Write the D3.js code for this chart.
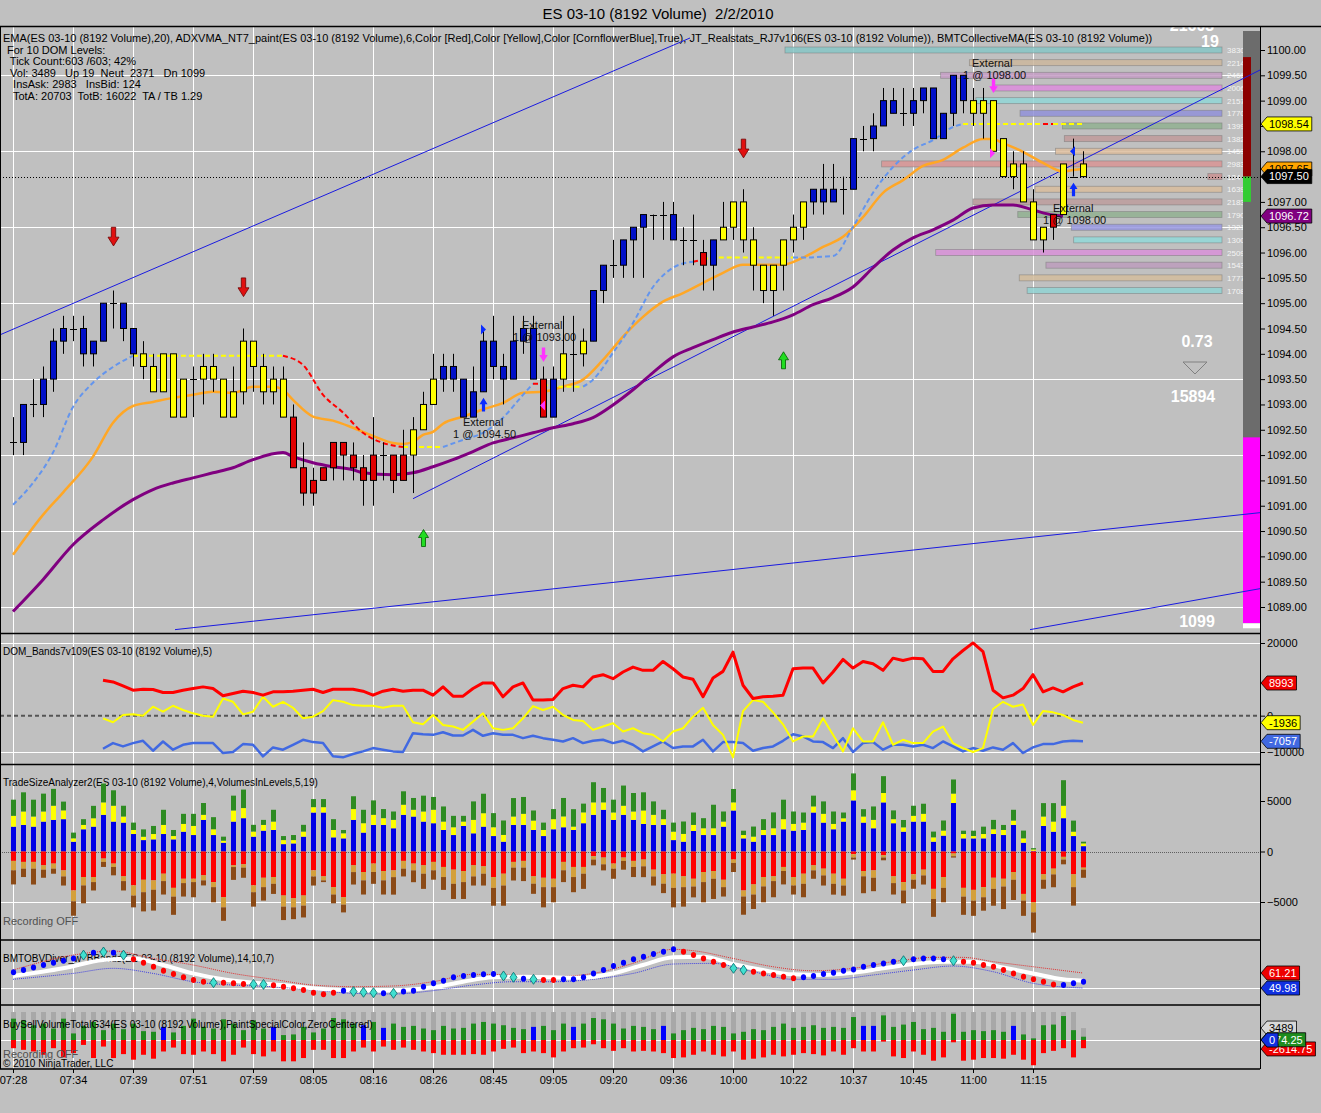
<!DOCTYPE html>
<html>
<head>
  <title>ES 03-10 (8192 Volume) 2/2/2010</title>
  <meta charset="utf-8">
  <script type="text/javascript" src="https://d3js.org/d3.v7.min.js"></script>
  <style>
    body { margin: 0; background: #c0c0c0; }
    svg { display: block; }
    text { font-family: "Liberation Sans", Arial, sans-serif; }
  </style>
</head>
<body>
<svg id="chart" width="1321" height="1113"></svg>
<script type="text/javascript">
"use strict";

// ---- price bars (8192 volume bars, 2/2/2010) ----
var barOpen = [1092.25,1092.25,1093.0,1093.0,1093.5,1094.25,1094.5,1094.5,1094.0,1094.25,
  1095.0,1095.0,1094.5,1094.0,1093.75,1093.25,1094.0,1092.75,1093.5,1093.5,
  1093.75,1093.5,1092.75,1093.25,1094.25,1093.75,1093.25,1093.5,1092.75,1091.75,
  1091.25,1091.5,1091.75,1092.25,1092.0,1091.75,1091.5,1092.0,1092.0,1091.5,
  1092.0,1092.5,1093.0,1093.5,1093.75,1093.5,1092.75,1093.25,1094.25,1093.75,
  1093.5,1094.25,1094.5,1093.5,1092.75,1093.5,1094.0,1094.0,1094.25,1095.25,
  1095.75,1095.75,1096.25,1096.5,1096.75,1096.75,1096.75,1096.25,1096.25,1096.0,
  1095.75,1096.25,1096.5,1097.0,1096.25,1095.75,1095.25,1095.75,1096.25,1096.5,
  1097.0,1097.0,1097.0,1097.25,1097.25,1098.25,1098.25,1098.5,1098.75,1098.75,
  1098.75,1099.0,1099.25,1098.25,1098.75,1099.5,1099.0,1098.75,1099.0,1098.25,
  1097.5,1097.75,1097.0,1096.25,1096.5,1096.75,1097.5,1097.75];
var barHigh = [1092.75,1093.0,1093.5,1093.75,1094.5,1094.75,1094.75,1094.75,1094.25,1095.0,
  1095.25,1095.0,1094.5,1094.25,1094.0,1094.0,1094.0,1093.5,1093.75,1094.0,
  1094.0,1093.5,1093.75,1094.5,1094.25,1094.0,1093.75,1093.75,1093.0,1092.25,
  1091.75,1091.75,1092.25,1092.25,1092.25,1092.0,1092.75,1092.25,1092.0,1092.5,
  1092.75,1093.25,1094.0,1094.0,1094.0,1093.5,1093.75,1094.5,1094.75,1094.0,
  1094.75,1094.75,1094.75,1093.75,1093.75,1094.75,1094.75,1094.5,1095.25,1095.75,
  1096.25,1096.25,1096.5,1096.75,1096.75,1097.0,1097.0,1096.5,1096.75,1096.25,
  1096.25,1097.0,1097.0,1097.25,1096.5,1095.75,1095.75,1096.25,1096.75,1097.0,
  1097.25,1097.75,1097.75,1097.5,1098.25,1098.5,1098.75,1099.25,1099.25,1099.25,
  1099.25,1099.25,1099.25,1098.75,1099.5,1099.5,1099.25,1099.25,1099.0,1098.25,
  1098.0,1098.0,1097.25,1096.5,1096.75,1097.75,1098.25,1098.0];
var barLow = [1092.0,1092.0,1092.75,1092.75,1093.25,1094.0,1094.25,1093.75,1093.75,1094.25,
  1094.5,1094.25,1093.75,1093.5,1093.25,1093.25,1092.75,1092.75,1092.75,1093.0,
  1093.25,1092.75,1092.75,1093.0,1093.25,1093.0,1093.0,1092.75,1091.75,1091.0,
  1091.0,1091.5,1091.5,1091.5,1091.5,1091.0,1091.0,1091.5,1091.25,1091.5,
  1091.25,1092.5,1093.0,1093.25,1093.25,1092.75,1092.75,1093.25,1093.5,1093.0,
  1093.5,1094.0,1093.5,1092.75,1092.75,1093.25,1093.25,1093.75,1094.25,1095.0,
  1095.5,1095.5,1095.5,1095.5,1096.25,1096.25,1096.25,1095.75,1095.75,1095.25,
  1095.25,1096.25,1096.25,1096.0,1095.25,1095.0,1094.75,1095.25,1096.0,1096.25,
  1096.75,1096.75,1097.0,1096.75,1097.25,1098.0,1098.0,1098.5,1098.75,1098.5,
  1098.5,1098.75,1098.25,1098.25,1098.5,1098.75,1098.5,1098.25,1098.0,1097.5,
  1097.25,1097.0,1096.25,1096.0,1096.25,1096.75,1097.5,1097.5];
var barClose = [1092.25,1093.0,1093.0,1093.5,1094.25,1094.5,1094.5,1094.0,1094.25,1095.0,
  1095.0,1094.5,1094.0,1093.75,1093.25,1094.0,1092.75,1093.5,1093.5,1093.75,
  1093.5,1092.75,1093.25,1094.25,1093.75,1093.25,1093.5,1092.75,1091.75,1091.25,
  1091.5,1091.75,1092.25,1092.0,1091.75,1091.5,1092.0,1092.0,1091.5,1092.0,
  1092.5,1093.0,1093.5,1093.75,1093.5,1092.75,1093.25,1094.25,1093.75,1093.5,
  1094.25,1094.5,1093.5,1092.75,1093.5,1094.0,1094.0,1094.25,1095.25,1095.75,
  1095.75,1096.25,1096.5,1096.75,1096.75,1096.75,1096.25,1096.25,1096.25,1095.75,
  1096.25,1096.5,1097.0,1096.25,1095.75,1095.25,1095.75,1096.25,1096.5,1097.0,
  1097.25,1097.25,1097.25,1097.25,1098.25,1098.25,1098.5,1099.0,1099.0,1098.75,
  1099.0,1099.25,1098.25,1098.75,1099.5,1099.0,1098.75,1099.0,1098.0,1097.5,
  1097.75,1097.0,1096.25,1096.5,1096.75,1097.75,1097.5,1097.5];
// b = up trend (blue), y = flat (yellow), r = down trend (red)
var barColor = "bbbbbbbbbbbbb" + "yyyyyyyyyyyyyyy" + "rrrrrrrrrrrr" + "yyy" + "bbbbbbbbbb" +
  "r" + "b" + "yyy" + "bbbbbbbbbbb" + "r" + "b" + "yyyyyyyyy" + "bbbbbbbbbbbbbbbb" +
  "yyyyyyyy" + "r" + "yyy";
var timeLabels = ["07:28","07:34","07:39","07:51","07:59","08:05","08:16","08:26","08:45",
  "09:05","09:20","09:36","10:00","10:22","10:37","10:45","11:00","11:15"];
var priceTicks = [1089,1089.5,1090,1090.5,1091,1091.5,1092,1092.5,1093,1093.5,1094,
  1094.5,1095,1095.5,1096,1096.5,1097,1097.5,1098,1098.5,1099,1099.5,1100];

// ---- overlays ----
var emaBars = [0,3,5,8,10,12,14,16,18,20,22,24,26,27,28,30,32,34,36,38,39,40,41,42,43,45,47,49,51,53,
  55,57,59,61,63,65,67,69,71,73,75,77,79,81,83,85,87,89,91,93,95,97,98,99,101,103,105,106,107];
var emaVals = [1090.03,1090.82,1091.26,1091.97,1092.64,1092.97,1093.05,1093.13,1093.19,1093.25,
  1093.23,1093.35,1093.35,1093.29,1093.09,1092.76,1092.68,1092.54,1092.38,1092.24,
  1092.22,1092.26,1092.40,1092.46,1092.62,1092.76,1092.90,1093.03,1093.23,1093.25,
  1093.35,1093.49,1093.88,1094.34,1094.73,1095.03,1095.20,1095.40,1095.60,1095.76,
  1095.76,1095.76,1095.90,1096.11,1096.31,1096.70,1097.18,1097.43,1097.71,1097.83,
  1098.07,1098.24,1098.24,1098.16,1097.99,1097.77,1097.60,1097.63,1097.65];
var maBars = [0,3,6,9,12,14,16,18,20,22,24,27,28,30,32,34,35,38,40,42,44,46,48,50,52,54,56,58,60,62,
  64,66,68,70,72,74,76,78,80,82,84,86,88,90,92,94,96,98,100,102,104,105];
var maVals = [1088.91,1089.54,1090.23,1090.72,1091.12,1091.32,1091.45,1091.55,1091.65,1091.75,
  1091.91,1092.05,1091.97,1091.85,1091.77,1091.71,1091.65,1091.61,1091.65,1091.77,
  1091.91,1092.07,1092.24,1092.34,1092.44,1092.54,1092.62,1092.74,1092.99,1093.29,
  1093.63,1093.94,1094.12,1094.28,1094.43,1094.53,1094.63,1094.77,1094.97,1095.11,
  1095.32,1095.70,1096.05,1096.29,1096.45,1096.64,1096.88,1096.94,1096.94,1096.84,
  1096.74,1096.72];
var adxBars = [0,2,4,6,8,10,12,13,27,29,31,33,35,37,39,40,43,45,47,49,51,52,53,54,57,58,60,62,64,66,
  68,69,70,78,79,81,82,84,86,88,90,92,94,95,96,103,104,105,107];
var adxVals = [1091.02,1091.45,1092.05,1092.95,1093.43,1093.74,1093.96,1093.96,1093.96,1093.78,
  1093.19,1092.84,1092.44,1092.24,1092.16,1092.16,1092.16,1092.30,1092.44,1092.74,
  1093.19,1093.41,1093.41,1093.35,1093.35,1093.49,1094.02,1094.61,1095.32,1095.70,
  1095.82,1095.86,1095.90,1095.90,1095.90,1095.92,1095.93,1096.51,1097.18,1097.69,
  1098.03,1098.22,1098.48,1098.54,1098.54,1098.54,1098.54,1098.54,1098.54];
// u = up (cornflower), f = flat (yellow), d = down (red)
var adxState = "uuuuuuuffd" + "dddddffuuu" + "uudffuuuuu" + "udffuuuuuu" + "uuuuffdff";

// drawn trend lines: [bar, price] pairs
var trendLines = [
  [[-1.3, 1094.375], [67.7, 1100.237]],
  [[40.0, 1091.139], [124.7, 1099.605]],
  [[16.2, 1088.553], [124.7, 1090.863]],
  [[101.7, 1088.553], [124.7, 1089.362]]
];
// signal arrows: bar, tip price, kind
var arrowBars = [10, 23, 73, 41, 77, 53, 98, 47, 106];
var arrowTips = [1096.13, 1095.13, 1097.87, 1090.53, 1094.04, 1093.84, 1099.15, 1093.13, 1097.38];
var arrowKinds = ["redDn","redDn","redDn","greenUp","greenUp","magDn","magDn","blueUp","blueUp"];
var flagBars = [46.8, 106.2, 97.7, 53.2];
var flagPrices = [1094.48, 1098.0, 1097.96, 1092.98];
var flagKinds = ["blueR","blueL","magR","magL"];
var tradeBars = [50.9, 50.0, 45.0, 44.0, 95.9, 95.0, 104.0, 103.0];
var tradePrices = [1094.50, 1094.26, 1092.57, 1092.33, 1099.67, 1099.43, 1096.80, 1096.56];
var tradeTexts = ["External","1 @ 1093.00","External","1 @ 1094.50",
  "External","1 @ 1098.00","External","1 @ 1098.00"];

// DOM ladder
var domPrices = [1100.00,1099.75,1099.50,1099.25,1099.00,1098.75,1098.50,1098.25,1098.00,1097.75,
  1097.50,1097.25,1097.00,1096.75,1096.50,1096.25,1096.00,1095.75,1095.50,1095.25];
var domSizes = [3830,2214,2466,2006,2157,1770,1399,1382,1459,2983,124,1639,2183,1790,1321,1300,2509,1543,1777,1708];
var domColors = ["#86c6c6","#cbb69c","#c49cc4","#dc8cdc","#90d6d6","#9090d8","#90b090","#c09a9a","#dcbc9c","#d89494",
  "#c89090","#d8bc9c","#bc9c9c","#90b090","#9898e0","#90d8d8","#d890d8","#bc9cbc","#d2bc9c","#90d2d2"];
// realstats column: price ranges
var rsTop = [1099.86, 1097.50, 1092.35, 1088.68];
var rsBottom = [1097.50, 1097.00, 1088.68, 1088.58];
var rsColors = ["#8b0000", "#33cc33", "#ff00ff", "#ffffff"];

// ---- DOM_Bands panel (bars 9..107) ----
var domRed = [9740,9280,8190,7010,7280,7190,6370,6370,7010,7460,
  7920,7460,5460,6100,6730,6370,5640,6550,6550,6730,
  7010,7280,6370,7280,7280,7280,6730,5640,6730,7280,
  6730,7010,7010,5640,7920,5370,5370,7460,9010,9010,
  5190,7920,9010,4280,4280,4460,7460,8370,7920,10650,
  11280,10190,12010,13380,12470,12470,14920,12920,10650,10010,
  5190,10370,12190,17470,8370,4730,5190,5370,5640,12920,
  13100,13100,9010,12010,15470,13100,14920,14290,12470,15830,
  15200,15830,15650,12190,12190,15650,17930,20020,17650,7010,
  4910,5640,7460,11280,6550,7640,6550,7920,8993];
var domYellow = [-730,-1820,180,360,0,2460,1090,2730,1550,640,
  0,-270,4730,3820,360,1090,5190,2460,3820,2180,
  -730,-270,1270,4280,3820,2910,2730,2730,2180,2730,
  2730,-1820,-2370,180,-2550,-3000,-3910,-1640,640,-3460,
  -3910,-3460,-730,2640,1550,2460,180,-1180,-1460,-3910,
  -3000,-2090,-4370,-3460,-4820,-5280,-7100,-4370,-3460,-270,
  2180,-2550,-5280,-11470,1270,4280,3820,910,-2370,-7100,
  -5730,-5730,-730,-5280,-9830,-3460,-7100,-7100,-1820,-8010,
  -6640,-7550,-7550,-4370,-3000,-7550,-8920,-10010,-8920,1820,
  3820,2460,3090,-2550,1270,910,180,-1180,-1936];
var domBlue = [-9100,-7550,-8460,-7550,-6920,-9650,-7100,-9370,-8010,-7550,
  -7550,-7550,-10280,-10010,-7830,-8010,-11190,-8740,-9370,-8010,
  -6640,-7280,-7550,-11190,-11470,-10560,-9830,-8920,-9370,-9830,
  -10010,-4820,-5100,-5280,-4550,-5460,-5460,-3910,-5550,-4820,
  -5280,-5280,-6190,-5550,-6190,-6640,-7100,-6190,-7550,-6920,
  -6640,-7550,-6920,-8010,-9830,-8460,-7100,-8920,-8460,-8460,
  -6640,-9830,-7280,-7280,-7550,-9650,-8920,-8460,-6920,-5100,
  -5730,-7100,-7280,-8920,-6190,-10010,-7550,-7280,-9370,-8010,
  -8010,-8460,-8010,-8920,-7100,-8460,-9830,-8920,-9650,-8740,
  -9370,-7550,-10280,-8740,-7830,-7830,-7100,-6920,-7057];

// ---- TradeSizeAnalyzer2 panel ----
var tsBlue = [2460,2630,2460,2960,3130,3200,970,2200,2460,3630, 2960,2860,1730,1130,1200,1730,1200,1960,1630,3130,
  1630,870,2960,3300,1470,2060,2130,730,800,1470, 3860,3860,1400,1300,3130,1870,2630,2630,2300,3630,
  3460,2960,2800,2130,1630,2530,1800,2460,1530,970, 2630,2630,2130,1530,2200,2400,2130,2800,3630,4130,
  3130,3630,3130,2730,2630,2630,1130,970,2030,1630, 1630,2460,4060,1300,970,1630,1630,2200,2060,2130,
  3860,2860,2200,2960,5060,2860,2300,4860,2800,1960, 2960,2960,970,1570,4800,1300,1300,1300,1730,1630,
  2630,870,70,2530,1960,3300,1530,530];
var tsYellow = [1070,1330,1000,1000,1400,870,330,430,830,1230, 1570,600,400,330,530,900,330,770,900,500,
  570,200,1100,1000,500,570,830,400,330,500, 530,530,730,500,1070,930,1000,670,830,1000,
  670,1000,1330,830,770,430,1330,1330,870,670, 830,1100,930,600,1000,1070,330,1070,1230,730,
  730,900,830,1330,1000,570,830,770,600,670, 670,500,800,330,500,500,670,1000,670,730,
  600,870,530,330,1000,600,830,930,400,430, 570,770,430,500,930,430,230,430,470,500,
  430,430,130,930,1000,1230,430,270];
var tsGreen = [1600,1900,1670,1770,1670,870,570,570,1230,1870, 1530,1070,730,730,800,1500,600,1000,1200,1170,
  1200,400,1470,1830,670,500,1170,400,500,670, 800,800,1070,330,1270,1330,1430,900,830,1330,
  1170,1570,1270,1500,1130,570,1830,1930,1400,1430, 1830,1670,1000,730,1000,1830,1730,870,2000,1430,
  1270,2000,1830,1800,1330,930,900,1230,1230,1000, 2330,1000,1330,430,1000,1070,1570,1930,1230,1000,
  1070,1230,1230,570,1670,730,1330,1670,870,730, 1000,1000,570,1000,1400,330,530,730,930,500,
  1070,770,130,1330,1830,2530,1100,170];
var tsRed = [930,1030,1030,1370,1200,1870,3860,2530,2530,700, 1200,2460,3360,2800,2860,2200,3600,2700,2700,2360,
  3030,4530,1370,1270,3360,2600,2530,4360,4630,4360, 1870,2460,3530,4530,1370,2030,1200,1930,1870,930,
  1200,1370,1030,1530,1800,1930,1370,1470,2530,2200, 1030,930,2460,2600,2700,1030,1530,1530,470,600,
  1200,600,930,800,1800,2260,2200,2460,2700,2030, 1930,2800,800,3860,3260,2530,2460,1530,2530,2200,
  1370,1700,2200,2700,270,1930,1870,370,2460,3030, 2260,1800,3700,2530,200,3600,3800,3530,2600,2700,
  2030,4200,5030,2260,1700,530,2260,1600];
var tsTan = [930,670,670,430,500,600,1070,830,500,330, 330,470,1000,1230,930,730,870,430,330,500,
  500,1000,170,330,670,930,670,1100,900,1000, 600,400,730,730,670,830,830,930,670,770,
  670,830,830,1000,1400,1100,1100,730,1070,1170, 570,670,730,930,830,830,1000,670,330,670,
  500,330,600,670,670,930,1400,1070,770,1000, 770,730,330,600,1000,930,470,400,830,1000,
  500,670,1000,670,330,530,730,230,670,830, 530,570,1000,1070,270,870,1070,1000,1100,770,
  770,670,1000,530,570,270,1270,200];
var tsBrown = [1400,830,1570,800,500,900,1430,1770,830,500, 830,930,1170,1900,2060,1330,1800,1330,1500,500,
  1500,1330,1270,1000,1430,1330,1000,1330,1170,1170, 900,170,870,770,1230,1400,1170,1400,1730,770,
  1170,1500,930,1270,1500,1670,900,1170,1770,2000, 1270,1330,1000,2000,1500,1170,1500,1500,570,600,
  1000,870,1000,1070,900,930,1930,1930,1070,2000, 2000,930,900,1800,1430,1570,1600,1330,900,1330,
  830,1000,1070,1000,200,1670,1330,270,1130,1270, 900,900,1770,1430,130,1800,1500,1330,1670,2230,
  2000,1500,2000,900,1270,470,1830,800];

// ---- BMTOBVDiver_w_BBands panel ----
var obvVals = [61.7,63.4,65.4,67.2,68.9,70.4,72.1,74.6,76.4,76.9, 76.4,74.6,71.4,68.9,65.9,62.9,60.4,58.0,56.0,54.7,
  54.0,54.0,53.5,53.0,52.7,52.7,52.0,51.0,49.8,48.5, 46.5,45.3,46.5,48.0,47.3,46.8,46.5,46.0,46.0,47.3,
  48.0,51.0,53.5,55.5,58.0,59.0,59.7,60.2,60.4,59.0, 58.0,57.0,56.5,56.0,56.0,56.5,56.5,58.0,60.9,63.4,
  66.4,68.9,71.4,73.4,75.4,77.1,78.9,77.1,74.6,72.1, 69.7,67.2,64.7,63.4,62.2,60.9,59.7,58.5,57.2,58.0,
  59.0,60.4,61.4,62.9,63.9,65.9,67.2,68.4,69.7,70.4, 71.4,72.1,72.1,71.4,70.4,69.7,68.9,67.2,65.9,63.4,
  60.9,58.5,56.5,54.7,52.7,52.2,53.5,54.7];
// b = rising dot, r = falling dot, d = divergence diamond
var obvType = "bbbbbbbdbdbd" + "rrrrrrrr" + "d" + "rrr" + "dd" + "rrrrrrr" + "bdddbd" + "bbbbbbbbbb" +
  "ddbd" + "rr" + "bbbbbbbbbbbb" + "rrrrr" + "dd" + "rrrrr" + "bbbbbbbbbb" + "d" + "bbbb" + "d" +
  "rrrrrrrrrr" + "bbb";
var obvMidBars = [0,5,9,12,15,18,21,24,27,30,33,36,39,42,45,48,51,54,57,60,63,66,69,72,75,78,81,84,87,90,93,96,99,102,105,107];
var obvMidVals = [59.0,64.7,70.9,72.1,67.2,60.9,56.5,54.0,52.2,49.8,48.5,48.0,48.5,50.5,54.7,58.0,58.5,58.0,57.7,60.9,
  67.2,72.9,73.4,67.9,63.4,60.2,59.7,61.4,64.7,67.9,69.7,69.7,65.4,60.9,56.5,55.5];
var obvUpBars = [0,6,10,14,18,22,26,30,34,38,42,46,50,54,58,62,66,68,72,76,80,84,88,92,95,98,102,107];
var obvUpVals = [63.4,74.6,77.6,72.1,67.2,60.9,56.5,52.2,51.0,51.5,54.7,60.2,59.7,58.5,60.9,68.4,78.9,77.9,
  72.1,65.9,62.9,64.7,69.7,72.9,72.9,69.7,65.9,61.21];
var obvLoBars = [0,6,10,14,18,22,26,30,34,38,42,46,50,54,58,62,66,70,74,78,82,86,90,94,98,102,107];
var obvLoVals = [56.5,60.9,64.7,60.9,54.7,52.2,51.0,48.5,46.0,45.5,48.0,52.2,54.7,54.7,56.5,60.9,67.9,68.4,
  62.2,56.5,56.5,59.7,63.4,66.4,62.2,53.5,49.98];

// ---- BuySellVolumeTotalG34 panel ----
var bsBuy = [6240,5760,4320,4800,3360,6240,1920,4130,5280,2880, 4800,3170,4800,2590,2400,3840,2210,4130,6240,3840,
  3360,6050,4800,2880,5760,3360,3840,1440,1630,3840, 2210,3360,6430,6050,4800,4320,5280,3550,4800,3840,
  4130,3360,2880,4130,3360,3550,4800,5280,4800,4320, 3550,3170,3840,4130,2880,4800,3840,4800,6430,6050,
  4800,3360,4130,3840,3170,4130,1920,2880,3550,3170, 4130,3840,1920,2400,3170,2880,3840,4800,3550,3840,
  4320,3550,3840,3550,6720,4130,4130,7200,3840,4510, 5280,3170,3550,2400,7680,2400,2880,2590,2880,2400,
  4130,1630,480,4320,4510,7010,2880,960];
var bsSell = [2400,2880,3360,4320,2400,5090,3840,1440,5280,1920, 5280,4130,5760,4320,5470,3360,2210,4130,4320,3360,
  4130,6240,4320,2210,4130,4800,3360,6240,6240,5280, 2880,2880,5280,5280,3360,2210,3360,1920,2880,2210,
  2880,3360,3840,4320,4320,4320,4130,4320,3360,2590, 2210,3840,3360,3840,5090,3360,2400,2210,1250,2400,
  3170,2400,3360,3170,3360,3840,5280,5090,4320,3360, 4320,4800,3360,5760,5470,5090,4320,4800,4320,3840,
  4130,4510,3360,4320,2400,3360,3360,480,4800,5280, 3360,4320,6050,5090,670,6050,5760,5280,5280,5470,
  4320,5760,7390,3840,3170,2400,5090,2400];
var bsSpecial = [15,26,35,37,52,56,65,85,86,100];
var barVolume = 8192, lastVolume = 3489;

// ---------------------------------------------------------------
var svg = d3.select('#chart');
var font = '"Liberation Sans", Arial, sans-serif';
var axisX = 1260;
var panels = {
  main: [27, 633], dom: [635, 764], ts: [766, 939], obv: [941, 1004], bs: [1006, 1069]
};
var nBars = barOpen.length;
var x = d3.scaleLinear().domain([0, 107]).range([13, 1083]);
var yP = d3.scaleLinear().domain([1089, 1100]).range([607, 50]);
var yDom = d3.scaleLinear().domain([-10000, 20000]).range([752, 643]);
var yTs = d3.scaleLinear().domain([-5000, 5000]).range([902, 801]);
var yObv = d3.scaleLinear().domain([50, 61.21]).range([988, 973]);
var yBs = d3.scaleLinear().domain([-barVolume, barVolume]).range([1068, 1012]);
var domLen = d3.scaleLinear().domain([0, 3830]).range([0, 437]);

svg.append('rect').attr('width', 1321).attr('height', 1113).attr('fill', '#c0c0c0');

// clip paths
var defs = svg.append('defs');
Object.keys(panels).forEach(function(k) {
  defs.append('clipPath').attr('id', 'clip-' + k).append('rect')
    .attr('x', 0).attr('y', panels[k][0]).attr('width', axisX).attr('height', panels[k][1] - panels[k][0]);
});
function panel(k) { return svg.append('g').attr('clip-path', 'url(#clip-' + k + ')'); }

// vertical grid lines (every 6 bars)
var gridBars = d3.range(0, 108, 6);
svg.append('g').selectAll('line').data(gridBars).join('line')
  .attr('x1', function(d) { return x(d) + 0.5; }).attr('x2', function(d) { return x(d) + 0.5; })
  .attr('y1', panels.main[0]).attr('y2', panels.bs[1])
  .attr('stroke', '#ffffff').attr('stroke-width', 1);

// ================= MAIN PANEL =================
var main = panel('main');
main.selectAll('line.hgrid').data([1089, 1090.5, 1092, 1093.5, 1095, 1096.5, 1098, 1099.5]).join('line')
  .attr('class', 'hgrid').attr('x1', 0).attr('x2', axisX)
  .attr('y1', function(d) { return Math.round(yP(d)) + 0.5; })
  .attr('y2', function(d) { return Math.round(yP(d)) + 0.5; })
  .attr('stroke', '#ffffff');

// header texts
main.append('text').attr('x', 3).attr('y', 42).style('font-size', '11px')
  .text('EMA(ES 03-10 (8192 Volume),20), ADXVMA_NT7_paint(ES 03-10 (8192 Volume),6,Color [Red],Color [Yellow],Color [CornflowerBlue],True), JT_Realstats_RJ7v106(ES 03-10 (8192 Volume)), BMTCollectiveMA(ES 03-10 (8192 Volume))');
var stats = ['For 10 DOM Levels:', ' Tick Count:603 /603; 42%', ' Vol: 3489   Up 19  Neut  2371   Dn 1099',
  '  InsAsk: 2983   InsBid: 124', '  TotA: 20703  TotB: 16022  TA / TB 1.29'];
main.selectAll('text.stat').data(stats).join('text').attr('class', 'stat')
  .attr('x', 7).attr('y', function(d, i) { return 54 + i * 11.4; })
  .attr('xml:space', 'preserve').style('font-size', '11px').style('white-space', 'pre')
  .text(function(d) { return d; });

// DOM ladder bars
var domG = main.append('g');
domG.selectAll('rect').data(domSizes).join('rect')
  .attr('x', function(d) { return 1222 - domLen(d); })
  .attr('y', function(d, i) { return yP(domPrices[i]) - 3; })
  .attr('width', function(d) { return domLen(d); }).attr('height', 6)
  .attr('fill', function(d, i) { return domColors[i]; }).attr('fill-opacity', 0.85)
  .attr('stroke', '#7a7a7a').attr('stroke-opacity', 0.6).attr('stroke-width', 0.8);
domG.selectAll('text').data(domSizes).join('text')
  .attr('x', 1227).attr('y', function(d, i) { return yP(domPrices[i]) + 3; })
  .style('font-size', '8px').attr('fill', '#f4f4f4').text(function(d) { return d; });

// realstats column
main.append('rect').attr('x', 1243).attr('y', 31).attr('width', 17).attr('height', 597).attr('fill', '#6c6c6c');
main.selectAll('rect.rs').data(rsTop).join('rect').attr('class', 'rs')
  .attr('x', 1243).attr('y', function(d) { return yP(d); })
  .attr('width', function(d, i) { return i < 2 ? 8 : 17; })
  .attr('height', function(d, i) { return yP(rsBottom[i]) - yP(d); })
  .attr('fill', function(d, i) { return rsColors[i]; });
var bigTxt = [["0.73", 1197, 347], ["15894", 1193, 402], ["1099", 1197, 627], ["19", 1210, 47], ["21603", 1192, 31]];
main.selectAll('text.big').data(bigTxt).join('text').attr('class', 'big')
  .attr('x', function(d) { return d[1]; }).attr('y', function(d) { return d[2]; })
  .attr('text-anchor', 'middle').style('font-size', '16px').style('font-weight', 'bold')
  .attr('fill', '#ffffff').text(function(d) { return d[0]; });
main.append('path').attr('d', 'M1183,362 L1207,362 L1195,374 Z').attr('fill', 'none').attr('stroke', '#808080');

// last price dotted line
main.append('line').attr('x1', 0).attr('x2', axisX)
  .attr('y1', Math.round(yP(1097.5)) + 0.5).attr('y2', Math.round(yP(1097.5)) + 0.5)
  .attr('stroke', '#000').attr('stroke-dasharray', '1,2');

// trend lines
main.selectAll('line.trend').data(trendLines).join('line').attr('class', 'trend')
  .attr('x1', function(d) { return x(d[0][0]); }).attr('y1', function(d) { return yP(d[0][1]); })
  .attr('x2', function(d) { return x(d[1][0]); }).attr('y2', function(d) { return yP(d[1][1]); })
  .attr('stroke', '#1a1ae0').attr('stroke-width', 1);

// moving averages
var lineP = d3.line().curve(d3.curveMonotoneX)
  .x(function(d) { return x(d[0]); }).y(function(d) { return yP(d[1]); });
main.append('path').datum(maBars.map(function(b, i) { return [b, maVals[i]]; }))
  .attr('d', lineP).attr('fill', 'none').attr('stroke', '#800080').attr('stroke-width', 3);
main.append('path').datum(emaBars.map(function(b, i) { return [b, emaVals[i]]; }))
  .attr('d', lineP).attr('fill', 'none').attr('stroke', '#ffa726').attr('stroke-width', 2.5);

// ADXVMA dashed, colored by state runs
var adxColor = { u: '#6495ed', f: '#ffff00', d: '#ff0000' };
var runs = [], cur = null;
for (var i = 1; i < adxBars.length; i++) {
  var s = adxState[i];
  if (!cur || cur.s !== s) { cur = { s: s, pts: [[adxBars[i - 1], adxVals[i - 1]]] }; runs.push(cur); }
  cur.pts.push([adxBars[i], adxVals[i]]);
}
main.selectAll('path.adx').data(runs).join('path').attr('class', 'adx')
  .attr('d', function(d) { return lineP(d.pts); }).attr('fill', 'none')
  .attr('stroke', function(d) { return adxColor[d.s]; }).attr('stroke-width', 2)
  .attr('stroke-dasharray', '5,3');

// candles
var bars = d3.range(nBars).map(function(i) {
  return { i: i, o: barOpen[i], h: barHigh[i], l: barLow[i], c: barClose[i], k: barColor[i] };
});
var candleFill = { b: '#0010c8', y: '#ffff00', r: '#e00000' };
var cg = main.append('g');
cg.selectAll('line.wick').data(bars).join('line').attr('class', 'wick')
  .attr('x1', function(d) { return x(d.i) + 0.5; }).attr('x2', function(d) { return x(d.i) + 0.5; })
  .attr('y1', function(d) { return yP(d.h); }).attr('y2', function(d) { return yP(d.l); })
  .attr('stroke', '#000').attr('stroke-width', 1);
cg.selectAll('rect.body').data(bars.filter(function(d) { return d.o !== d.c; })).join('rect').attr('class', 'body')
  .attr('x', function(d) { return x(d.i) - 2.5; })
  .attr('y', function(d) { return yP(Math.max(d.o, d.c)); })
  .attr('width', 6)
  .attr('height', function(d) { return yP(Math.min(d.o, d.c)) - yP(Math.max(d.o, d.c)); })
  .attr('fill', function(d) { return candleFill[d.k]; }).attr('stroke', '#000').attr('stroke-width', 1);
cg.selectAll('line.doji').data(bars.filter(function(d) { return d.o === d.c; })).join('line').attr('class', 'doji')
  .attr('x1', function(d) { return x(d.i) - 3; }).attr('x2', function(d) { return x(d.i) + 4; })
  .attr('y1', function(d) { return Math.round(yP(d.o)) + 0.5; }).attr('y2', function(d) { return Math.round(yP(d.o)) + 0.5; })
  .attr('stroke', '#000').attr('stroke-width', 1);

// arrows
var arrowStyle = {
  redDn: { fill: '#e01010', stroke: '#700000', up: false, s: 1.1 },
  greenUp: { fill: '#22dd22', stroke: '#006000', up: true, s: 1.0 },
  magDn: { fill: '#ff33ff', stroke: 'none', up: false, s: 0.85 },
  blueUp: { fill: '#0a2cff', stroke: 'none', up: true, s: 0.8 }
};
function arrowPath(up, s) {
  var pts = [[-2, 17], [2, 17], [2, 8], [5, 8], [0, 0], [-5, 8], [-2, 8]];
  return 'M' + pts.map(function(p) { return [p[0] * s, (up ? p[1] : -p[1]) * s].join(','); }).join('L') + 'Z';
}
main.selectAll('path.arrow').data(arrowBars).join('path').attr('class', 'arrow')
  .attr('transform', function(d, i) { return 'translate(' + (x(d) + 0.5) + ',' + yP(arrowTips[i]) + ')'; })
  .attr('d', function(d, i) { var st = arrowStyle[arrowKinds[i]]; return arrowPath(st.up, st.s); })
  .attr('fill', function(d, i) { return arrowStyle[arrowKinds[i]].fill; })
  .attr('stroke', function(d, i) { return arrowStyle[arrowKinds[i]].stroke; }).attr('stroke-width', 0.8);
var flagStyle = { blueR: ['#0a2cff', 1], blueL: ['#0a2cff', -1], magR: ['#ff33ff', 1], magL: ['#ff33ff', -1] };
main.selectAll('path.flag').data(flagBars).join('path').attr('class', 'flag')
  .attr('transform', function(d, i) { return 'translate(' + x(d) + ',' + yP(flagPrices[i]) + ')'; })
  .attr('d', function(d, i) { var k = flagStyle[flagKinds[i]][1]; return 'M0,-5L' + (5 * k) + ',0L0,5Z'; })
  .attr('fill', function(d, i) { return flagStyle[flagKinds[i]][0]; });

// execution labels
main.selectAll('text.exec').data(tradeTexts).join('text').attr('class', 'exec')
  .attr('x', function(d, i) { return x(tradeBars[i]); }).attr('y', function(d, i) { return yP(tradePrices[i]); })
  .style('font-size', '11px').attr('fill', '#111').text(function(d) { return d; });

// ================= DOM BANDS PANEL =================
var dom = panel('dom');
dom.selectAll('line.hg').data([20000, -10000]).join('line').attr('class', 'hg')
  .attr('x1', 0).attr('x2', axisX)
  .attr('y1', function(d) { return Math.round(yDom(d)) + 0.5; }).attr('y2', function(d) { return Math.round(yDom(d)) + 0.5; })
  .attr('stroke', '#fff');
dom.append('line').attr('x1', 0).attr('x2', axisX).attr('y1', yDom(0)).attr('y2', yDom(0))
  .attr('stroke', '#555').attr('stroke-width', 2).attr('stroke-dasharray', '4,3');
dom.append('text').attr('x', 3).attr('y', 655).style('font-size', '10px')
  .text('DOM_Bands7v109(ES 03-10 (8192 Volume),5)');
var lineDom = d3.line().x(function(d, i) { return x(i + 9); }).y(function(d) { return yDom(d); });
[[domBlue, '#4169e1', 2.5], [domYellow, '#ffff00', 2], [domRed, '#ff0000', 3]].forEach(function(s) {
  dom.append('path').datum(s[0]).attr('d', lineDom).attr('fill', 'none')
    .attr('stroke', s[1]).attr('stroke-width', s[2]).attr('stroke-linejoin', 'round');
});

// ================= TRADE SIZE PANEL =================
var ts = panel('ts');
ts.append('line').attr('x1', 0).attr('x2', axisX).attr('y1', Math.round(yTs(-5000)) + 0.5).attr('y2', Math.round(yTs(-5000)) + 0.5)
  .attr('stroke', '#fff');
ts.append('line').attr('x1', 0).attr('x2', axisX).attr('y1', Math.round(yTs(0)) + 0.5).attr('y2', Math.round(yTs(0)) + 0.5)
  .attr('stroke', '#606060').attr('stroke-dasharray', '1,1');
ts.append('text').attr('x', 3).attr('y', 786).style('font-size', '10px')
  .text('TradeSizeAnalyzer2(ES 03-10 (8192 Volume),4,VolumesInLevels,5,19)');
ts.append('text').attr('x', 3).attr('y', 925).style('font-size', '11px').attr('fill', '#505050').text('Recording OFF');
var tsSeries = [[tsBlue, '#0000e6', 1], [tsYellow, '#ffff00', 1], [tsGreen, '#2e8b22', 1],
  [tsRed, '#ff0000', -1], [tsTan, '#d4a03c', -1], [tsBrown, '#8b4a16', -1]];
var stackUp = new Array(nBars).fill(0), stackDn = new Array(nBars).fill(0);
tsSeries.forEach(function(s) {
  var rows = s[0].map(function(v, i) {
    var base = s[2] > 0 ? stackUp[i] : stackDn[i];
    var top = base + s[2] * v;
    if (s[2] > 0) stackUp[i] = top; else stackDn[i] = top;
    return { i: i, a: base, b: top };
  });
  ts.append('g').selectAll('rect').data(rows).join('rect')
    .attr('x', function(d) { return x(d.i) - 2; }).attr('width', 5)
    .attr('y', function(d) { return yTs(Math.max(d.a, d.b)); })
    .attr('height', function(d) { return Math.abs(yTs(d.a) - yTs(d.b)); })
    .attr('fill', s[1]);
});

// ================= OBV PANEL =================
var obv = panel('obv');
obv.append('line').attr('x1', 0).attr('x2', axisX).attr('y1', 988.5).attr('y2', 988.5).attr('stroke', '#fff');
obv.append('text').attr('x', 3).attr('y', 962).style('font-size', '10px')
  .text('BMTOBVDiver_w_BBands(ES 03-10 (8192 Volume),14,10,7)');
var lineObv = d3.line().curve(d3.curveMonotoneX).x(function(d) { return x(d[0]); }).y(function(d) { return yObv(d[1]); });
obv.append('path').datum(obvUpBars.map(function(b, i) { return [b, obvUpVals[i]]; }))
  .attr('d', lineObv).attr('fill', 'none').attr('stroke', '#e03030').attr('stroke-width', 1).attr('stroke-dasharray', '1,1');
obv.append('path').datum(obvLoBars.map(function(b, i) { return [b, obvLoVals[i]]; }))
  .attr('d', lineObv).attr('fill', 'none').attr('stroke', '#4040e0').attr('stroke-width', 1).attr('stroke-dasharray', '1,1');
obv.append('path').datum(obvMidBars.map(function(b, i) { return [b, obvMidVals[i]]; }))
  .attr('d', lineObv).attr('fill', 'none').attr('stroke', '#ffffff').attr('stroke-width', 4);
var obvPts = obvVals.map(function(v, i) { return { i: i, v: v, t: obvType[i] }; });
obv.selectAll('ellipse').data(obvPts.filter(function(d) { return d.t !== 'd'; })).join('ellipse')
  .attr('cx', function(d) { return x(d.i) + 0.5; }).attr('cy', function(d) { return yObv(d.v); })
  .attr('rx', 2.6).attr('ry', 3).attr('fill', function(d) { return d.t === 'b' ? '#0000ff' : '#ff0000'; });
obv.selectAll('path.dia').data(obvPts.filter(function(d) { return d.t === 'd'; })).join('path').attr('class', 'dia')
  .attr('transform', function(d) { return 'translate(' + (x(d.i) + 0.5) + ',' + yObv(d.v) + ')'; })
  .attr('d', 'M0,-5L3.5,0L0,5L-3.5,0Z').attr('fill', '#40e0d0').attr('stroke', '#006a6a').attr('stroke-width', 0.8);

// ================= BUY/SELL PANEL =================
var bs = panel('bs');
bs.append('line').attr('x1', 0).attr('x2', axisX).attr('y1', Math.round(yBs(0)) + 0.5).attr('y2', Math.round(yBs(0)) + 0.5)
  .attr('stroke', '#fff');
var bsRows = d3.range(nBars).map(function(i) {
  return { i: i, tot: i === nBars - 1 ? lastVolume : barVolume, buy: bsBuy[i], sell: bsSell[i],
    special: bsSpecial.indexOf(i) >= 0 };
});
bs.append('g').selectAll('rect').data(bsRows).join('rect')
  .attr('x', function(d) { return x(d.i) - 2; }).attr('width', 5)
  .attr('y', function(d) { return yBs(d.tot); }).attr('height', function(d) { return yBs(0) - yBs(d.tot); })
  .attr('fill', '#a8a8a8');
bs.append('g').selectAll('rect').data(bsRows).join('rect')
  .attr('x', function(d) { return x(d.i) - 2; }).attr('width', 5)
  .attr('y', function(d) { return yBs(d.buy); }).attr('height', function(d) { return yBs(0) - yBs(d.buy); })
  .attr('fill', function(d) { return d.special ? '#0000ff' : '#1e8c1e'; });
bs.append('g').selectAll('rect').data(bsRows).join('rect')
  .attr('x', function(d) { return x(d.i) - 2; }).attr('width', 5)
  .attr('y', yBs(0)).attr('height', function(d) { return yBs(-d.sell) - yBs(0); })
  .attr('fill', '#ff0000');
bs.append('text').attr('x', 3).attr('y', 1028).style('font-size', '10px')
  .text('BuySellVolumeTotalG34(ES 03-10 (8192 Volume),PaintSpecialColor,ZeroCentered)');
bs.append('text').attr('x', 3).attr('y', 1058).style('font-size', '11px').attr('fill', '#505050').text('Recording OFF');
bs.append('text').attr('x', 3).attr('y', 1067).style('font-size', '10px').text('\u00a9 2010 NinjaTrader, LLC');

// ================= FRAMES & AXES =================
var frame = svg.append('g').attr('stroke', '#000').attr('fill', 'none');
frame.append('line').attr('x1', 0).attr('x2', 1321).attr('y1', 26.5).attr('y2', 26.5).attr('stroke-width', 1.5);
[633.5, 764.5, 940, 1005, 1069].forEach(function(yy) {
  frame.append('line').attr('x1', 0).attr('x2', axisX).attr('y1', yy).attr('y2', yy).attr('stroke-width', 1.5);
});
frame.append('line').attr('x1', 0.5).attr('x2', 0.5).attr('y1', 26).attr('y2', 1069);
frame.append('line').attr('x1', axisX + 0.5).attr('x2', axisX + 0.5).attr('y1', 26).attr('y2', 1069);

function styleAxis(g) {
  g.select('.domain').remove();
  g.selectAll('text').style('font-family', font).style('font-size', '11px').attr('fill', '#000');
  g.selectAll('line').attr('stroke', '#000');
}
svg.append('g').attr('transform', 'translate(' + axisX + ',0)')
  .call(d3.axisRight(yP).tickValues(priceTicks).tickFormat(d3.format('.2f')).tickSize(5).tickPadding(2))
  .call(styleAxis);
svg.append('g').attr('transform', 'translate(' + axisX + ',0)')
  .call(d3.axisRight(yDom).tickValues([-10000, 0, 20000]).tickFormat(d3.format('d')).tickSize(5).tickPadding(2))
  .call(styleAxis);
svg.append('g').attr('transform', 'translate(' + axisX + ',0)')
  .call(d3.axisRight(yTs).tickValues([-5000, 0, 5000]).tickFormat(d3.format('d')).tickSize(5).tickPadding(2))
  .call(styleAxis);
svg.append('g').attr('transform', 'translate(0,1069)')
  .call(d3.axisBottom(x).tickValues(gridBars).tickFormat(function(d, i) { return timeLabels[i]; }).tickSize(4).tickPadding(3))
  .call(styleAxis);

// title
svg.append('text').attr('x', 658).attr('y', 19).attr('text-anchor', 'middle').style('font-size', '15px')
  .attr('xml:space', 'preserve').style('white-space', 'pre').text('ES 03-10 (8192 Volume)  2/2/2010');

// value callouts on the axis
function callout(yy, label, fill, color) {
  var g = svg.append('g');
  var t = g.append('text').attr('x', 1269).attr('y', yy).attr('dy', '0.35em')
    .style('font-size', '11px').attr('fill', color).text(label);
  var w = t.node().getComputedTextLength();
  g.insert('path', 'text')
    .attr('d', 'M1261,' + yy + 'L1267,' + (yy - 7) + 'L' + (1272 + w) + ',' + (yy - 7) + 'L' + (1272 + w) + ',' +
      (yy + 7) + 'L1267,' + (yy + 7) + 'Z')
    .attr('fill', fill).attr('stroke', '#000').attr('stroke-width', 0.8);
}
var lastEma = emaVals[emaVals.length - 1], lastMa = maVals[maVals.length - 1];
callout(yP(adxVals[adxVals.length - 1]), d3.format('.2f')(adxVals[adxVals.length - 1]), '#ffff00', '#000');
callout(yP(lastEma), d3.format('.2f')(lastEma), '#ffa500', '#000');
callout(yP(barClose[nBars - 1]), d3.format('.2f')(barClose[nBars - 1]), '#000000', '#fff');
callout(yP(lastMa), d3.format('.2f')(lastMa), '#800080', '#fff');
callout(yDom(domRed[domRed.length - 1]), String(domRed[domRed.length - 1]), '#ee0000', '#fff');
callout(yDom(domYellow[domYellow.length - 1]), String(domYellow[domYellow.length - 1]), '#ffff00', '#000');
callout(yDom(domBlue[domBlue.length - 1]), String(domBlue[domBlue.length - 1]), '#4169e1', '#fff');
callout(yObv(obvUpVals[obvUpVals.length - 1]), '61.21', '#ee0000', '#fff');
callout(yObv(obvLoVals[obvLoVals.length - 1]), '49.98', '#1030e0', '#fff');
callout(yBs(lastVolume), String(lastVolume), '#d8d8d8', '#000');
callout(yBs(-2614.75), '-2614.75', '#ee0000', '#fff');
callout(yBs(74.25), '874.25', '#1e8c1e', '#fff');
callout(yBs(0), '0', '#1030e0', '#fff');
</script>
</body>
</html>
